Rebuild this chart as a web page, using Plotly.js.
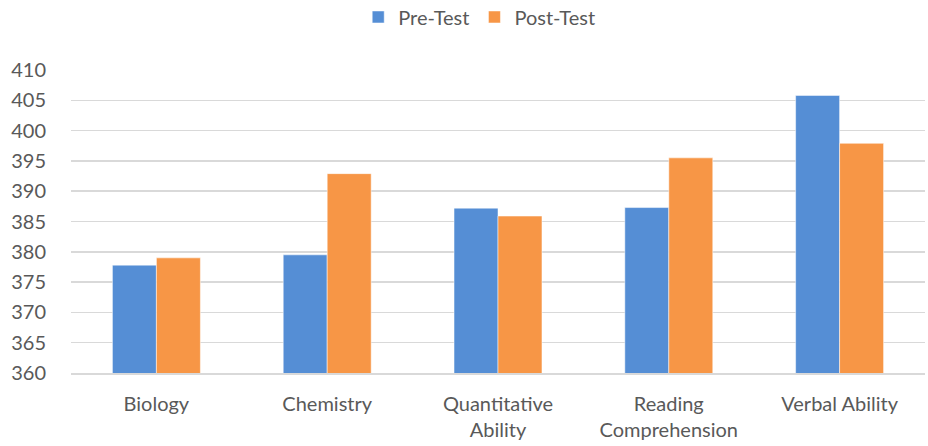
<!DOCTYPE html>
<html>
<head>
<meta charset="utf-8">
<script src="https://cdn.plot.ly/plotly-3.0.1.min.js"></script>
<style>html,body{margin:0;padding:0;background:#fff;}#chart{width:928px;height:446px;}</style>
</head>
<body>
<div id="chart"></div>
<script>
var categories = ["Biology", "Chemistry", "Quantitative<br>Ability", "Reading<br>Comprehension", "Verbal Ability"];
var preTest = [377.8, 379.5, 387.2, 387.3, 405.8];
var postTest = [379.0, 392.9, 385.9, 395.5, 397.9];
var seriesNames = ["Pre-Test", "Post-Test"];
var yTicks = [360, 365, 370, 375, 380, 385, 390, 395, 400, 405, 410];

var tickFont = {family: "Lato, 'Open Sans', sans-serif", size: 20, color: "#595959"};
var legendFont = {family: "Lato, 'Open Sans', sans-serif", size: 20, color: "#595959"};
var data = [
  {type: "bar", name: seriesNames[0], x: categories, y: preTest, marker: {color: "#558ED5", line: {color: "#ffffff", width: 0.5}}},
  {type: "bar", name: seriesNames[1], x: categories, y: postTest, marker: {color: "#F79646", line: {color: "#ffffff", width: 0.5}}}
];
var layout = {
  width: 928, height: 446,
  margin: {l: 71, r: 3, t: 70, b: 73, autoexpand: false},
  paper_bgcolor: "#fff", plot_bgcolor: "#fff",
  font: tickFont,
  barmode: "group", bargap: 0.485, bargroupgap: 0,
  showlegend: true,
  legend: {orientation: "h", x: 0.478, xanchor: "center", y: 1.175, yanchor: "middle", font: legendFont, traceorder: "normal"},
  xaxis: {automargin: false, showgrid: false, showline: true, linecolor: "#d9d9d9", linewidth: 1.5, ticks: "outside", ticklen: 12, tickcolor: "rgba(0,0,0,0)", tickfont: tickFont, fixedrange: true},
  yaxis: {automargin: false, range: [360, 410], tickvals: yTicks, ticktext: yTicks.map(String), showgrid: true, gridcolor: "#d9d9d9", gridwidth: 1.5, zeroline: false, showline: false, ticks: "outside", ticklen: 20, tickcolor: "rgba(0,0,0,0)", tickfont: tickFont, fixedrange: true}
};
Plotly.newPlot("chart", data, layout, {displayModeBar: false, staticPlot: true});
</script>
</body>
</html>
